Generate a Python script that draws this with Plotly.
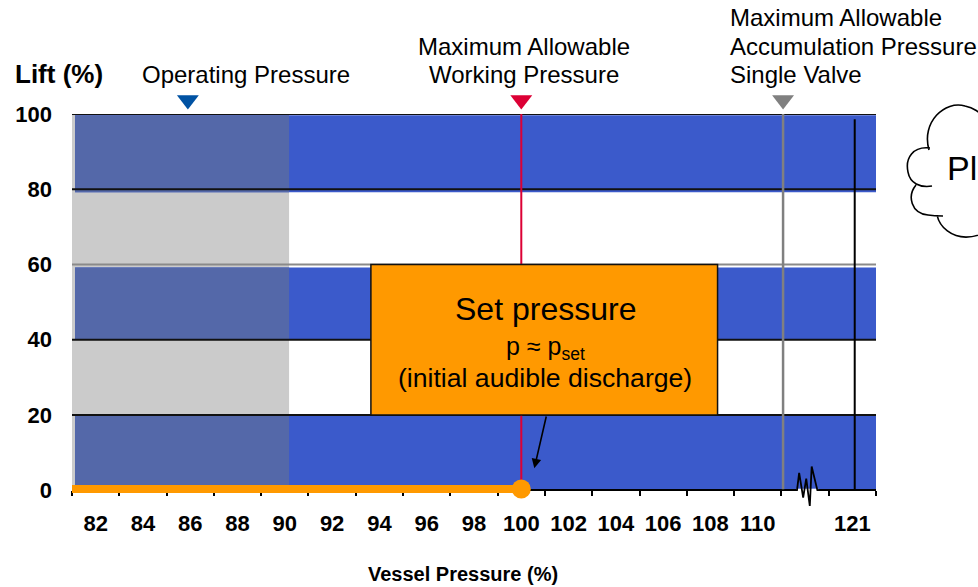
import plotly.graph_objects as go

# ---------------- data ----------------
x_tick_vals = [82, 84, 86, 88, 90, 92, 94, 96, 98, 100, 102, 104, 106, 108, 110, 114]
x_tick_text = ["82", "84", "86", "88", "90", "92", "94", "96", "98", "100",
               "102", "104", "106", "108", "110", "121"]
x_minor_ticks = list(range(81, 116, 2))
y_tick_vals = [0, 20, 40, 60, 80, 100]
x_range = [81, 115]
y_range = [-5, 100]

# horizontal background bands (lift %)
band_lo = [0, 40, 79.2]
band_hi = [20, 59.2, 99.7]
band_x = [81.13, 115]
gray_zone_x = [81, 90.18]
grid_y = [20, 40, 60, 80, 100]
grid_colors = ["#111111", "#111111", "#8a8a8a", "#111111", "#111111"]

# pressure markers (vessel pressure %, drawn on the broken axis)
marker_names = ["Operating Pressure", "Maximum Allowable Working Pressure",
                "Maximum Allowable Accumulation Pressure Single Valve"]
marker_x = [85.9, 100, 111.07]
marker_level = 0.26
marker_colors = ["#0052a3", "#dc0035", "#808080"]

# vertical reference lines
vline_x = [100, 111.07, 114.1]
vline_top = [100, 100, 98.6]
vline_colors = ["#dc0035", "#808080", "#000000"]
vline_widths = [2, 2.5, 2]

# lift curve
lift_x = [81, 100]
lift_y = [0.3, 0.3]

# set-pressure call-out
set_box_x = [93.64, 108.3]
set_box_y = [20, 60]
arrow_tail = (101.07, 20)
arrow_head = (100.55, 5.8)

# axis break zig-zag
break_x = [110.6, 111.66, 111.75, 111.92, 112.05, 112.2, 112.28, 112.52, 115]
break_y = [0, 0, 4.6, -2.0, 3.1, -4.2, 6.3, 0, 0]

BLUE = "#3b5acb"
SLATE = "#5468a9"
GRAY = "#cbcbcb"
ORANGE = "#ff9900"
FONT = "Arial, Liberation Sans, Helvetica, sans-serif"

W, H = 978, 587
ML, MR, MT = 72, 102, 60
BOTTOM_PX = 508.8          # bottom of plotting area (y = -5)
TOP_MAIN_PX = 114          # y = 100
ZERO_PX = 490              # y = 0
MB = H - BOTTOM_PX
PW, PH = W - ML - MR, BOTTOM_PX - MT
main_top = (BOTTOM_PX - TOP_MAIN_PX) / PH
xaxis_pos = (BOTTOM_PX - ZERO_PX) / PH


def px2paper(px, py):
    return (px - ML) / PW, (BOTTOM_PX - py) / PH


fig = go.Figure()

# vertical lines
for vx, vt, vc, vw in zip(vline_x, vline_top, vline_colors, vline_widths):
    fig.add_trace(go.Scatter(x=[vx, vx], y=[0, vt], mode="lines",
                             line=dict(color=vc, width=vw), hoverinfo="skip",
                             showlegend=False))

# break symbol (white cover then zig-zag)
fig.add_trace(go.Scatter(x=[111.62, 112.56], y=[0, 0], mode="lines",
                         line=dict(color="white", width=3),
                         showlegend=False, hoverinfo="skip"))
fig.add_trace(go.Scatter(x=break_x, y=break_y, mode="lines",
                         line=dict(color="black", width=1.8),
                         showlegend=False, hoverinfo="skip"))

# lift curve (line, then end point)
fig.add_trace(go.Scatter(x=lift_x, y=lift_y, mode="lines",
                         line=dict(color=ORANGE, width=8),
                         showlegend=False, hoverinfo="skip"))
fig.add_trace(go.Scatter(x=lift_x[-1:], y=lift_y[-1:], mode="markers",
                         marker=dict(size=19, color=ORANGE, opacity=1,
                                     line=dict(width=0)),
                         cliponaxis=False, showlegend=False))

# triangles (upper strip)
fig.add_trace(go.Scatter(x=marker_x, y=[marker_level] * len(marker_x), mode="markers",
                         xaxis="x", yaxis="y2",
                         marker=dict(symbol="triangle-down", size=19, opacity=1,
                                     color=marker_colors, line=dict(width=0)),
                         cliponaxis=False, showlegend=False, text=marker_names))

shapes = []
# gray zone
shapes.append(dict(type="rect", xref="x", yref="y", x0=gray_zone_x[0], x1=gray_zone_x[1],
                   y0=0, y1=100, fillcolor=GRAY, line=dict(width=0), layer="below"))
for lo, hi in zip(band_lo, band_hi):
    shapes.append(dict(type="rect", xref="x", yref="y", x0=band_x[0], x1=band_x[1],
                       y0=lo, y1=hi, fillcolor=BLUE, line=dict(width=0), layer="below"))
    shapes.append(dict(type="rect", xref="x", yref="y", x0=band_x[0], x1=gray_zone_x[1],
                       y0=lo, y1=hi, fillcolor=SLATE, line=dict(width=0), layer="below"))
for gy, gc in zip(grid_y, grid_colors):
    shapes.append(dict(type="line", xref="x", yref="y", x0=x_range[0], x1=x_range[1],
                       y0=gy, y1=gy, line=dict(color=gc, width=2), layer="below"))
# set-pressure box
shapes.append(dict(type="rect", xref="x", yref="y", x0=set_box_x[0], x1=set_box_x[1],
                   y0=set_box_y[0], y1=set_box_y[1], fillcolor=ORANGE,
                   line=dict(color="#111111", width=1.5), layer="above"))

# cloud (pixel outline converted to paper coords)
cloud_arcs = [
    [(929, 150), (921, 122), (945, 100), (965, 106), (974, 108), (979, 112), (986, 118)],
    [(930, 148), (913, 146), (905, 158), (908, 172), (910, 183), (920, 188), (932, 186)],
    [(916, 185), (907, 196), (911, 213), (928, 215), (934, 216), (939, 216), (943, 216)],
    [(937, 215), (940, 228), (952, 237), (966, 237), (973, 237), (980, 235), (986, 232)],
]
path = ""
for arc in cloud_arcs:
    pts = [px2paper(*p) for p in arc]
    path += "M%.5f,%.5f " % pts[0]
    path += "C%.5f,%.5f %.5f,%.5f %.5f,%.5f " % (*pts[1], *pts[2], *pts[3])
    path += "C%.5f,%.5f %.5f,%.5f %.5f,%.5f " % (*pts[4], *pts[5], *pts[6])
shapes.append(dict(type="path", xref="paper", yref="paper", path=path.strip(),
                   line=dict(color="black", width=1.6), fillcolor="rgba(0,0,0,0)"))

annotations = []


def add_text(text, px, py, size, xanchor="center", bold=False):
    xp, yp = px2paper(px, py)
    annotations.append(dict(text=("<b>%s</b>" % text) if bold else text,
                            xref="paper", yref="paper", x=xp, y=yp,
                            xanchor=xanchor, yanchor="middle", showarrow=False,
                            font=dict(family=FONT, size=size, color="black")))


# top labels
add_text("Operating Pressure", 246, 74, 24)
add_text("Maximum Allowable", 524, 47, 24)
add_text("Working Pressure", 524, 74, 24)
add_text("Maximum Allowable", 728, 18, 24, xanchor="left")
add_text("Accumulation Pressure", 728, 47, 24, xanchor="left")
add_text("Single Valve", 728, 74, 24, xanchor="left")
# axis titles
add_text("Lift (%)", 13, 74, 26, xanchor="left", bold=True)
add_text("Vessel Pressure (%)", 463, 574, 20, bold=True)
# box texts
add_text("Set pressure", 545, 309, 32)
add_text("p ≈ p<sub>set</sub>", 545, 348, 25)
add_text("(initial audible discharge)", 545, 378, 26.6)
# cloud text
add_text("Pling", 945, 168, 34, xanchor="left")

# arrow
annotations.append(dict(x=arrow_head[0], y=arrow_head[1], xref="x", yref="y",
                        ax=arrow_tail[0], ay=arrow_tail[1], axref="x", ayref="y",
                        text="", showarrow=True, arrowhead=2, arrowsize=1.2,
                        arrowwidth=1.6, arrowcolor="black"))

fig.update_layout(
    width=W, height=H,
    margin=dict(l=ML, r=MR, t=MT, b=MB, pad=0),
    paper_bgcolor="white", plot_bgcolor="white",
    shapes=shapes, annotations=annotations,
    showlegend=False,
    xaxis=dict(range=x_range, tickmode="array", tickvals=x_tick_vals, ticktext=x_tick_text,
               anchor="free", position=xaxis_pos, layer="below traces",
               ticks="", showgrid=False, zeroline=False,
               showline=True, linecolor="black", linewidth=1.5,
               tickfont=dict(family=FONT, size=22, color="black", weight="bold"),
               ticklabelstandoff=14,
               minor=dict(tickmode="array", tickvals=x_minor_ticks, ticks="outside",
                          ticklen=5, tickcolor="black", tickwidth=1.5, showgrid=False)),
    yaxis=dict(range=y_range, domain=[0, main_top], tickmode="array", tickvals=y_tick_vals,
               ticks="", showgrid=False, zeroline=False, showline=False,
               tickfont=dict(family=FONT, size=22, color="black", weight="bold"),
               ticklabelstandoff=19),
    yaxis2=dict(range=[0, 1], domain=[main_top, 1], visible=False, anchor="x"),
)

fig.write_html("out.html")
